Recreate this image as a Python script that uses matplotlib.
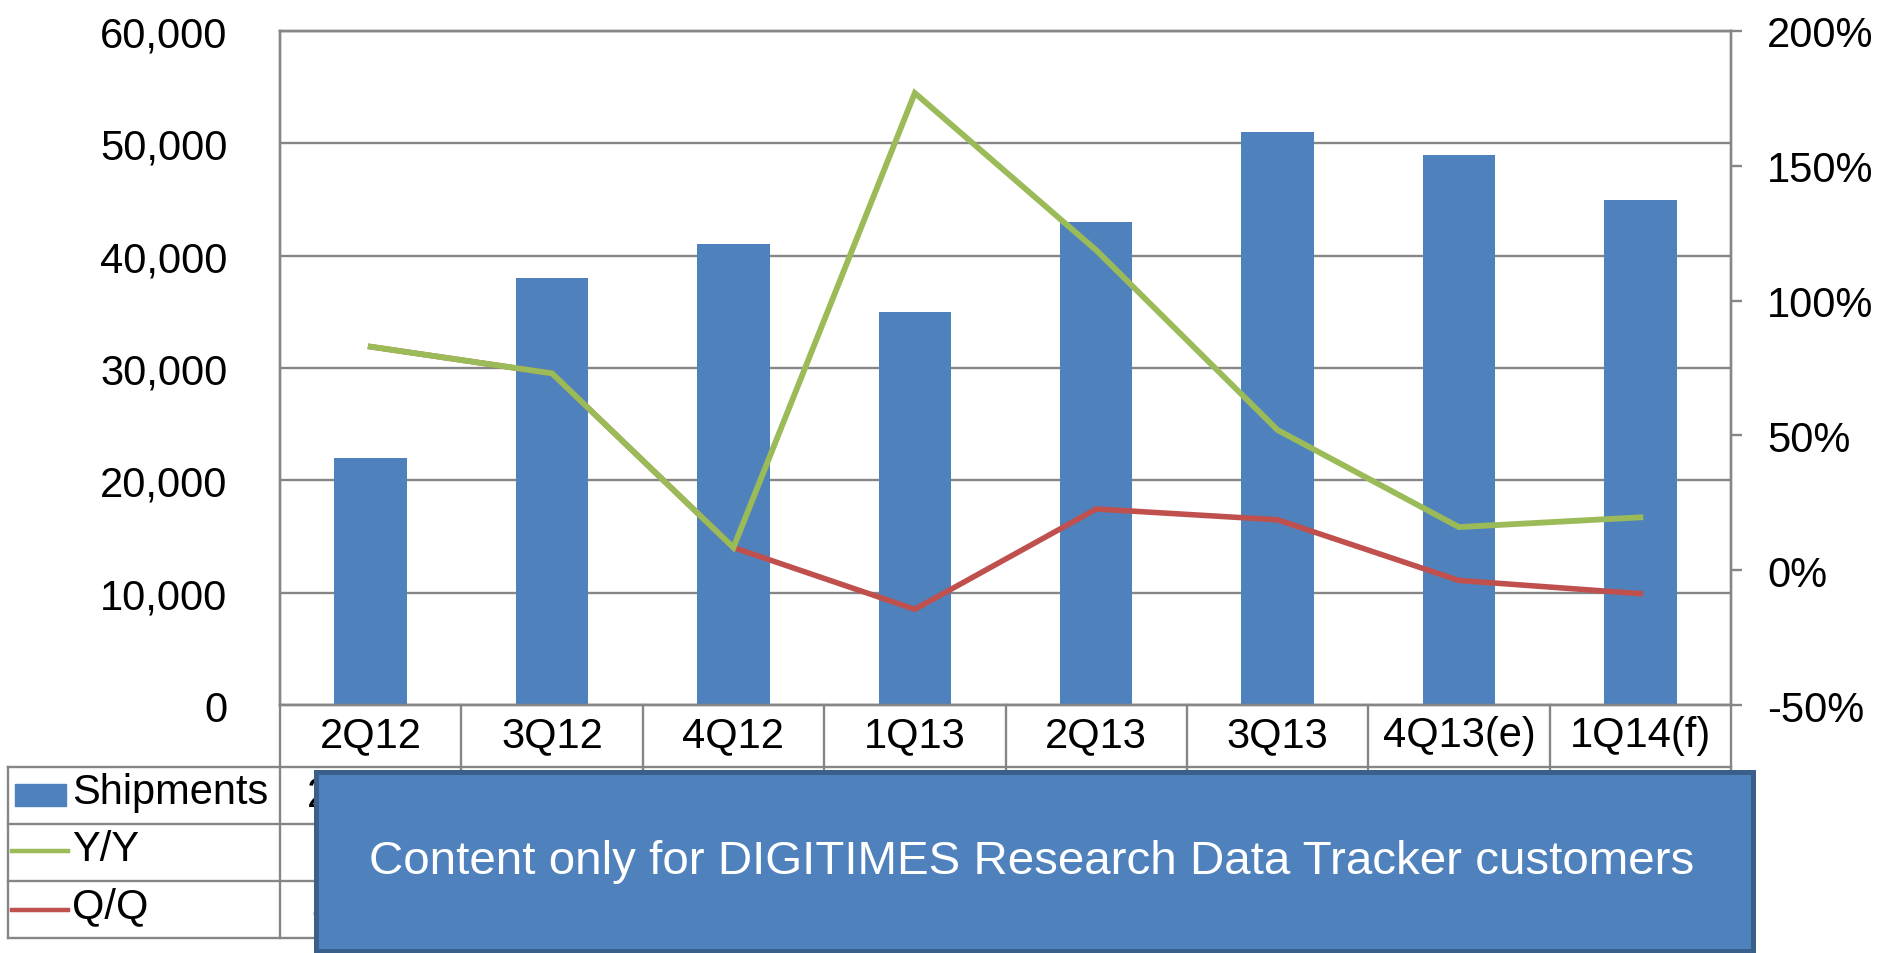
import numpy as np
import matplotlib
matplotlib.use("Agg")
import matplotlib.pyplot as plt
from matplotlib.patches import Rectangle
from matplotlib.lines import Line2D
import matplotlib.transforms as mtransforms

plt.rcParams['font.family'] = ['Liberation Sans', 'DejaVu Sans']

quarters = ["2Q12", "3Q12", "4Q12", "1Q13", "2Q13", "3Q13", "4Q13(e)", "1Q14(f)"]
shipments = [22000, 38000, 41000, 35000, 43000, 51000, 49000, 45000]
yy_growth = [82.9, 73.0, 8.4, 177.0, 118.7, 52.0, 16.0, 19.6]
qq_growth = [82.9, 73.0, 8.4, -14.5, 22.7, 18.7, -3.8, -8.7]

BLUE = "#4F81BD"
GREEN = "#9BBB59"
RED = "#C0504D"
GREY = "#868686"
W, H = 1900, 954


def fx(px):
    return px / W


def fy(py):
    return 1 - py / H


fig = plt.figure(figsize=(19, 9.54), dpi=100)
ax = fig.add_axes([fx(280), fy(706), fx(1731) - fx(280), fy(32) - fy(706)])

x = np.arange(len(quarters))
ax.bar(x, shipments, width=0.4, color=BLUE, zorder=2)
ax.set_xlim(-0.5, len(quarters) - 0.5)
ax.set_ylim(0, 60000)
ax.set_yticks(np.arange(0, 60001, 10000))
ax.set_yticklabels([f"{v:,}" for v in range(0, 60001, 10000)], fontsize=30)
ax.tick_params(axis='y', length=0, pad=38)
ax.set_xticks([])
ax.yaxis.grid(True, color=GREY, lw=1.7)
ax.set_axisbelow(True)
for s in ax.spines.values():
    s.set_color(GREY)
    s.set_linewidth(1.7)

ax2 = ax.twinx()
ax2.plot(x, qq_growth, color=RED, lw=4.0, solid_joinstyle='miter')
ax2.plot(x, yy_growth, color=GREEN, lw=4.2, solid_joinstyle='miter')
ax2.set_ylim(-50, 200)
ax2.set_yticks(np.arange(-50, 201, 50))
ax2.set_yticklabels([f"{v}%" for v in range(-50, 201, 50)], fontsize=30)
ax2.tick_params(axis='y', length=8, width=1.7, color=GREY, pad=18)
for s in ax2.spines.values():
    s.set_color(GREY)
    s.set_linewidth(1.7)

# data table under the chart (values mostly hidden by the notice box)
trans = mtransforms.blended_transform_factory(ax.transData, fig.transFigure)
for i, q in enumerate(quarters):
    ax.text(i, fy(736), q, transform=trans, ha='center', va='center',
            fontsize=30, clip_on=False)
    ax.text(i, fy(796), f"{shipments[i]:,}", transform=trans, ha='center',
            va='center', fontsize=30, clip_on=False)
    ax.text(i, fy(853), f"{yy_growth[i]:.0f}%", transform=trans, ha='center',
            va='center', fontsize=30, clip_on=False)
    ax.text(i, fy(911), f"{qq_growth[i]:.1f}%", transform=trans, ha='center',
            va='center', fontsize=30, clip_on=False)
for b in np.arange(-0.5, len(quarters), 1.0):
    ax.plot([b, b], [fy(706), fy(939)], transform=trans, color=GREY,
            lw=1.7, clip_on=False)

for py in [768, 825, 882, 939]:
    fig.add_artist(Line2D([fx(8), fx(1731)], [fy(py), fy(py)], color=GREY, lw=1.7))
fig.add_artist(Line2D([fx(8), fx(8)], [fy(768), fy(939)], color=GREY, lw=1.7))

# legend keys in the table
fig.add_artist(Rectangle((fx(15), fy(807)), fx(66) - fx(15), fy(785) - fy(807),
                         color=BLUE, transform=fig.transFigure))
fig.add_artist(Line2D([fx(12), fx(68)], [fy(852), fy(852)], color=GREEN, lw=3.2))
fig.add_artist(Line2D([fx(12), fx(68)], [fy(911), fy(911)], color=RED, lw=3.2))
fig.text(fx(72), fy(793), "Shipments", fontsize=30, va='center')
fig.text(fx(72), fy(850), "Y/Y", fontsize=30, va='center')
fig.text(fx(72), fy(907), "Q/Q", fontsize=30, va='center')

# overlay notice
box = Rectangle((fx(316), fy(952)), fx(1753) - fx(316), fy(773) - fy(952),
                facecolor=BLUE, edgecolor="#3A5F8B", lw=3.6,
                transform=fig.transFigure, zorder=10)
fig.add_artist(box)
fig.text(fx(1032), fy(862), "Content only for DIGITIMES Research Data Tracker customers",
         color='white', fontsize=34.2, ha='center', va='center', zorder=11)

fig.savefig("out.png", dpi=100)
